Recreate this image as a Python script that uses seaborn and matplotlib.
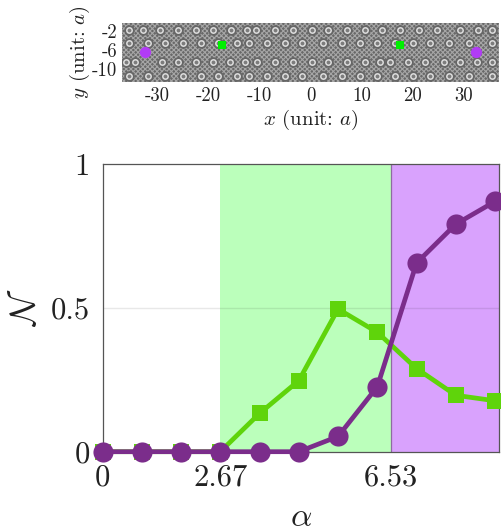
import numpy as np
import pandas as pd
import matplotlib
matplotlib.use("Agg")
import matplotlib.pyplot as plt
from matplotlib.patches import Rectangle
import seaborn as sns

# main panel values
alpha_vals = [0, 0.89, 1.78, 2.67, 3.56, 4.45, 5.34, 6.23, 7.12, 8.01, 8.9]
green_vals = [0, 0, 0, 0, 0.133, 0.247, 0.496, 0.415, 0.289, 0.196, 0.177]
purple_vals = [0, 0, 0, 0, 0, 0, 0.053, 0.226, 0.656, 0.791, 0.870]

# lattice rings, read row by row (unit: a)
row_a_x = [-35.6, -32.9, -29.5, -26, -22.5, -19.1, -15.5, -12.5, -10.6, -6.9, -3.4, 0.2, 3.5, 7.1, 10.6, 14, 17.6, 21.2, 24.8, 29.3, 32.9, 35.5]
row_b_x = [-35.5, -31.8, -28.6, -25, -21.5, -18.1, -14.5, -12.1, -8.6, -5, -1.6, 2.5, 6.1, 9.7, 13, 16.6, 20, 23.5, 27.1, 31, 35.5]
row_c_x = [-36.2, -34.5, -29.2, -26, -22.5, -19.1, -15.8, -12.9, -10.4, -6.9, -3.4, 0.2, 3.5, 7.1, 10.6, 13.6, 15.5, 19.1, 22.5, 26.1, 29.3, 32.6, 35.5]
row_d_x = [-35.5, -31.8, -28.6, -25, -21.5, -18.1, -14.5, -12.1, -8.6, -5, -1.6, 2.5, 6.1, 9.7, 13, 16.6, 20, 23.5, 27.1, 31, 35.5]
row_y = [-1.85, -4.5, -8.4, -11.3]

site_purple_x = [-32.5, 32.5]
site_purple_y = [-6.4, -6.4]
site_green_x = [-17.4, 17.5]
site_green_y = [-4.9, -4.9]

GREEN = '#5fd40b'
PURPLE = '#7b2d8b'
W, H = 502, 529

plt.rcParams['font.family'] = ['cmr10', 'DejaVu Serif']
plt.rcParams['mathtext.fontset'] = 'cm'
plt.rcParams['axes.formatter.use_mathtext'] = True
plt.rcParams['hatch.linewidth'] = 0.8


def pixel_axes(fig, left, top, right, bottom):
    return fig.add_axes([left / W, 1 - bottom / H, (right - left) / W, (bottom - top) / H])


def plot_lattice(ax):
    ax.add_patch(Rectangle((-36.9, -12.6), 73.9, 12.2, facecolor='#686868',
                           edgecolor='#a6a6a6', hatch='xxxxxxx', lw=0, zorder=0))
    for xs, y in zip([row_a_x, row_b_x, row_c_x, row_d_x], row_y):
        rings = pd.DataFrame({'x': xs, 'y': y})
        # dark halo, then the pale ring
        sns.scatterplot(data=rings, x='x', y='y', ax=ax, s=58, marker='o', color='#666666',
                        linewidth=0, zorder=1, legend=False)
        sns.scatterplot(data=rings, x='x', y='y', ax=ax, s=15, marker='o', color='#7c7c7c',
                        edgecolor='#dcdcdc', linewidth=1.1, zorder=2, legend=False)
    sns.scatterplot(x=site_purple_x, y=site_purple_y, ax=ax, s=66, marker='o',
                    color='#b13cf5', linewidth=0, zorder=3)
    sns.scatterplot(x=site_green_x, y=site_green_y, ax=ax, s=38, marker='s',
                    color='#00ee00', linewidth=0, zorder=3)

    ax.set_xlim(-36.9, 37)
    ax.set_ylim(-12.6, -0.4)
    ax.set_xticks([-30, -20, -10, 0, 10, 20, 30])
    ax.set_xticklabels(['-30', '-20', '-10', '0', '10', '20', '30'])
    ax.set_yticks([-2, -6, -10])
    ax.set_yticklabels(['-2', '-6', '-10'])
    ax.tick_params(length=0, labelsize=13.5, pad=3.5, colors='#222222')
    for spine in ax.spines.values():
        spine.set_visible(False)
    ax.set_xlabel(r'$x$ (unit: $a$)', fontsize=15, color='#222222', va='center')
    ax.set_ylabel(r'$y$ (unit: $a$)', fontsize=15, color='#222222', va='center')
    ax.xaxis.set_label_coords(0.5, -0.644)
    ax.yaxis.set_label_coords(-0.112, 0.5)


def plot_main(ax):
    ax.axvspan(2.67, 6.53, color='#bbffbb', lw=0, zorder=0)
    ax.axvspan(6.53, 9, color='#d9a2fd', lw=0, zorder=0)
    ax.axvline(6.53, color='#8f6aa3', lw=0.9, zorder=0.5)
    ax.axhline(0.5, color='#000000', alpha=0.09, lw=1, zorder=0.6)

    df = pd.DataFrame({'alpha': alpha_vals, 'green': green_vals, 'purple': purple_vals})
    sns.lineplot(data=df, x='alpha', y='green', ax=ax, color=GREEN, lw=3.4, marker='s',
                 markersize=11.5, markeredgewidth=0, clip_on=False, zorder=3)
    sns.lineplot(data=df, x='alpha', y='purple', ax=ax, color=PURPLE, lw=3.4, marker='o',
                 markersize=14.5, markeredgewidth=0, clip_on=False, zorder=4)

    ax.set_xlim(0, 9)
    ax.set_ylim(0, 1)
    ax.set_xticks([0, 2.67, 6.53])
    ax.set_xticklabels(['0', '2.67', '6.53'])
    ax.set_yticks([0, 0.5, 1])
    ax.set_yticklabels(['0', '0.5', '1'])
    ax.tick_params(length=0, labelsize=22, colors='#222222')
    ax.tick_params(axis='x', pad=9)
    ax.tick_params(axis='y', pad=9)
    for spine in ax.spines.values():
        spine.set_color('#555555')
        spine.set_linewidth(0.9)
    ax.set_xlabel(r'$\alpha$', fontsize=24, color='#222222', va='center')
    ax.set_ylabel(r'$\mathcal{N}$', fontsize=26, color='#222222', va='center')
    ax.xaxis.set_label_coords(0.5, -0.228)
    ax.yaxis.set_label_coords(-0.195, 0.5)


if __name__ == "__main__":
    fig = plt.figure(figsize=(W / 100, H / 100), dpi=100)
    ax_top = pixel_axes(fig, 122.3, 23, 499.3, 82)
    ax_main = pixel_axes(fig, 102.5, 164, 499.5, 451.7)
    plot_lattice(ax_top)
    plot_main(ax_main)
    fig.savefig('out.png', dpi=100)
    plt.close(fig)
